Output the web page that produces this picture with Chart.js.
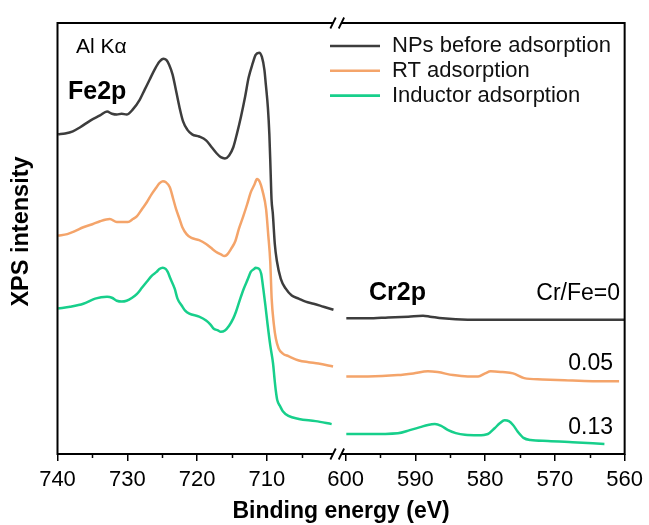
<!DOCTYPE html>
<html>
<head>
<meta charset="utf-8">
<script src="https://cdn.jsdelivr.net/npm/chart.js@4.4.1/dist/chart.umd.min.js"></script>
<style>
  body { margin: 0; background: #fff; }
  #wrap { width: 649px; height: 525px; }
</style>
</head>
<body>
<div id="wrap"><canvas id="chart" width="649" height="525"></canvas></div>
<script>
const FONT = "'Liberation Sans', Arial, sans-serif";

const seriesLabels = ["NPs before adsorption", "RT adsorption", "Inductor adsorption"];
const seriesColors = ["#3d3d3d", "#f4a46a", "#17cf8b"];
const ratioLabels = ["Cr/Fe=0", "0.05", "0.13"];

// Fe2p window (eV / offset intensity)
const npsFeEnergy = [739.9, 738.9, 737.8, 736.8, 735.3, 733.9, 732.9, 732.2, 731.5, 730.8, 730.1, 729.2, 728.2, 727.5,
  726.8, 726.1, 725.4, 724.8, 724.4, 724.0, 723.5, 723.1, 722.5, 722.0, 721.4, 720.7, 719.7, 718.7, 717.9, 717.2,
  716.6, 716.0, 715.4, 714.8, 714.3, 713.7, 713.1, 712.6, 712.0, 711.6, 711.1, 710.7, 710.34, 710.13, 709.84,
  709.63, 709.46, 709.32, 709.13, 708.85, 708.56, 707.99, 707.28, 706.42, 705.43, 704.43, 703.29, 701.87, 700.44];
const npsFeIntensity = [74.1, 74.3, 74.8, 75.7, 77.3, 78.5, 79.4, 78.9, 78.7, 78.9, 78.7, 79.9, 82.2, 84.5,
  86.8, 89.1, 91.0, 91.7, 91.4, 90.3, 88.0, 85.0, 80.3, 77.1, 75.2, 74.1, 73.6, 72.7, 71.1, 69.7,
  68.8, 68.5, 69.2, 71.1, 74.1, 78.2, 82.9, 87.3, 90.7, 92.6, 93.1, 92.1, 89.1, 85.6, 80.3,
  74.1, 66.0, 59.0, 55.6, 48.6, 44.7, 40.5, 38.2, 36.6, 35.9, 35.2, 34.7, 34.0, 33.3];

const rtFeEnergy = [739.9, 738.6, 737.5, 736.3, 735.0, 733.9, 732.5, 731.5, 730.6, 729.9, 729.2, 728.6, 727.9, 727.2,
  726.5, 725.8, 725.4, 724.9, 724.5, 723.9, 723.4, 723.0, 722.5, 722.1, 721.5, 720.8, 719.7, 718.7, 718.0, 717.3,
  716.5, 716.1, 715.7, 715.1, 714.5, 714.0, 713.4, 712.8, 712.3, 711.8, 711.4, 711.0, 710.6, 710.1, 709.8,
  709.5, 709.3, 709.0, 708.7, 708.3, 707.7, 706.9, 705.4, 704.0, 702.6, 700.5];
const rtFeIntensity = [50.5, 50.9, 51.6, 52.5, 53.2, 53.9, 54.4, 53.7, 53.7, 53.7, 54.4, 55.1, 56.7, 58.3,
  60.2, 61.8, 62.7, 63.2, 63.0, 61.8, 59.0, 56.7, 54.4, 52.5, 50.9, 50.0, 49.5, 48.6, 47.7, 46.8,
  46.1, 45.8, 46.1, 47.5, 49.3, 52.1, 54.9, 57.9, 60.6, 62.3, 63.7, 63.0, 60.9, 56.7, 50.9,
  44.4, 35.9, 30.1, 26.6, 24.3, 23.1, 22.5, 21.5, 21.1, 20.8, 20.1];

const indFeEnergy = [739.9, 738.2, 736.3, 734.6, 732.9, 732.2, 731.5, 730.8, 730.1, 729.3, 728.6, 727.9, 727.2, 726.5,
  725.8, 725.4, 724.9, 724.5, 724.2, 723.8, 723.2, 722.8, 722.2, 721.7, 721.1, 719.7, 718.7, 718.1, 717.6, 717.0,
  716.6, 716.0, 715.4, 714.8, 714.4, 713.8, 713.3, 712.7, 712.3, 711.8, 711.6, 711.1, 710.8, 710.5, 710.2,
  709.9, 709.5, 709.1, 708.9, 708.7, 708.5, 708.1, 707.7, 706.9, 705.4, 703.0, 700.7];
const indFeIntensity = [33.6, 34.0, 34.7, 35.9, 36.3, 36.1, 35.4, 35.2, 35.4, 36.1, 37.0, 38.4, 39.8, 41.2,
  42.1, 42.8, 43.1, 42.8, 42.1, 40.5, 38.2, 35.9, 34.3, 33.1, 32.4, 31.7, 30.8, 29.9, 28.9, 28.5,
  28.2, 28.5, 29.6, 31.3, 32.9, 35.9, 38.2, 40.5, 42.1, 42.8, 43.1, 42.8, 41.7, 38.2, 34.3,
  30.1, 25.0, 20.8, 17.4, 14.4, 12.3, 10.9, 9.7, 8.6, 7.9, 7.4, 6.7];

// Cr2p window
const npsCrEnergy = [599.9, 596.8, 593.9, 591.0, 588.9, 587.9, 586.1, 582.5, 578.2, 573.9, 569.7, 563.9, 560.0];
const npsCrIntensity = [31.3, 31.3, 31.5, 31.7, 31.9, 31.7, 31.3, 31.0, 31.0, 31.0, 31.0, 31.0, 31.0];

const rtCrEnergy = [599.9, 596.8, 592.5, 590.3, 588.2, 586.8, 584.6, 582.5, 581.0, 580.0, 579.2, 577.5, 576.0,
  574.4, 571.8, 568.6, 564.6, 560.8];
const rtCrIntensity = [17.8, 17.8, 18.1, 18.5, 19.0, 18.8, 18.1, 17.8, 17.8, 18.5, 19.0, 18.8, 18.5,
  17.4, 17.1, 16.9, 16.7, 16.7];

const indCrEnergy = [599.9, 596.8, 592.5, 590.8, 589.3, 588.2, 587.2, 586.3, 585.3, 584.2, 582.9, 581.0, 579.6,
  578.6, 577.9, 577.2, 576.6, 576.0, 575.3, 574.5, 573.5, 571.0, 567.5, 562.9];
const indCrIntensity = [4.4, 4.4, 4.6, 5.3, 6.0, 6.5, 6.7, 6.3, 5.3, 4.6, 4.2, 4.1, 4.4,
  5.8, 6.9, 7.6, 7.4, 6.5, 4.9, 3.5, 3.0, 2.8, 2.5, 2.1];

const feTicks = [740, 730, 720, 710];
const crTicks = [600, 590, 580, 570, 560];
const feMinor = [735, 725, 715, 705];
const crMinor = [595, 585, 575, 565];

// the 700-600 eV stretch is cut out of the axis, leaving a small gap
const cutGap = 1.3;
const shift = 100 - cutGap;

function toAxis(e) {
  return e < 650 ? e + shift : e;
}

function segment(energy, intensity) {
  return energy.map((e, i) => ({ x: toAxis(e), y: intensity[i] }));
}

function spectrum(feE, feI, crE, crI) {
  return segment(feE, feI).concat([{ x: 699.5, y: null }], segment(crE, crI));
}

const spectra = [
  spectrum(npsFeEnergy, npsFeIntensity, npsCrEnergy, npsCrIntensity),
  spectrum(rtFeEnergy, rtFeIntensity, rtCrEnergy, rtCrIntensity),
  spectrum(indFeEnergy, indFeIntensity, indCrEnergy, indCrIntensity)
];

const decor = {
  id: "decor",
  afterDraw(chart) {
    const ctx = chart.ctx;
    const { left, right, top, bottom } = chart.chartArea;
    const xs = chart.scales.x;
    const cutA = xs.getPixelForValue(700.5);
    const cutB = xs.getPixelForValue(600.6 + shift);

    ctx.save();
    ctx.strokeStyle = "#000";
    ctx.lineJoin = "miter";
    ctx.lineWidth = 2;
    ctx.beginPath();
    ctx.moveTo(cutA, top);
    ctx.lineTo(left, top);
    ctx.lineTo(left, bottom);
    ctx.lineTo(cutA, bottom);
    ctx.moveTo(cutB, top);
    ctx.lineTo(right, top);
    ctx.lineTo(right, bottom);
    ctx.lineTo(cutB, bottom);
    ctx.stroke();

    // break marks
    ctx.lineWidth = 1.8;
    ctx.beginPath();
    for (const y of [top, bottom]) {
      for (const x of [cutA, cutB]) {
        ctx.moveTo(x - 2.7, y + 5.5);
        ctx.lineTo(x + 2.7, y - 5.5);
      }
    }
    ctx.stroke();

    // minor ticks
    ctx.lineWidth = 1.5;
    ctx.beginPath();
    for (const v of feMinor.concat(crMinor.map(toAxis))) {
      const px = Math.round(xs.getPixelForValue(v)) + 0.5;
      ctx.moveTo(px, bottom);
      ctx.lineTo(px, bottom + 4);
    }
    ctx.stroke();

    // legend
    ctx.font = "22px " + FONT;
    ctx.textBaseline = "middle";
    ctx.textAlign = "left";
    chart.data.datasets.forEach((ds, i) => {
      const y = 46 + i * 24.8;
      ctx.strokeStyle = ds.borderColor;
      ctx.lineWidth = 2.6;
      ctx.beginPath();
      ctx.moveTo(330, y);
      ctx.lineTo(380, y);
      ctx.stroke();
      ctx.fillStyle = "#111";
      ctx.fillText(ds.label, 392, y);
    });

    // region labels
    ctx.fillStyle = "#000";
    ctx.textBaseline = "alphabetic";
    ctx.font = "21px " + FONT;
    ctx.fillText("Al K\u03b1", 76, 53);
    ctx.font = "bold 25px " + FONT;
    ctx.fillText("Fe2p", 68, 99);
    ctx.fillText("Cr2p", 369, 300);

    ctx.font = "23px " + FONT;
    ctx.textAlign = "right";
    ctx.fillText(ratioLabels[0], 620, 300);
    ctx.fillText(ratioLabels[1], 613, 369.5);
    ctx.fillText(ratioLabels[2], 613, 434);

    // y title
    ctx.translate(22, 231.5);
    ctx.rotate(-Math.PI / 2);
    ctx.textAlign = "center";
    ctx.textBaseline = "middle";
    ctx.font = "bold 23.5px " + FONT;
    ctx.fillText("XPS intensity", 0, 0);
    ctx.restore();
  }
};

new Chart(document.getElementById("chart"), {
  type: "line",
  data: {
    datasets: seriesLabels.map((label, i) => ({
      label: label,
      data: spectra[i],
      borderColor: seriesColors[i],
      borderWidth: 2.5,
      pointRadius: 0,
      cubicInterpolationMode: "monotone",
      fill: false
    }))
  },
  options: {
    responsive: false,
    animation: false,
    layout: { padding: { left: 57.5, right: 21.5, top: 23, bottom: 0 } },
    plugins: { legend: { display: false }, tooltip: { enabled: false } },
    scales: {
      x: {
        type: "linear",
        min: 560 + shift,
        max: 740,
        reverse: true,
        afterBuildTicks: (scale) => {
          scale.ticks = feTicks.map(v => ({ value: v })).concat(crTicks.map(v => ({ value: toAxis(v) })));
        },
        afterFit: (scale) => { scale.height = 71; },
        border: { display: false },
        grid: { drawOnChartArea: false, drawTicks: true, tickLength: 7, color: "#000", lineWidth: 1.5 },
        ticks: {
          color: "#000",
          font: { family: FONT, size: 22 },
          padding: 6,
          autoSkip: false,
          maxRotation: 0,
          callback: (v) => String(Math.round(v > 699 ? v : v - shift))
        },
        title: {
          display: true,
          text: "Binding energy (eV)",
          color: "#000",
          font: { family: FONT, size: 23, weight: "bold" },
          padding: { top: 0, bottom: 0 }
        }
      },
      y: { display: false, min: -0.25, max: 100 }
    }
  },
  plugins: [decor]
});
</script>
</body>
</html>
